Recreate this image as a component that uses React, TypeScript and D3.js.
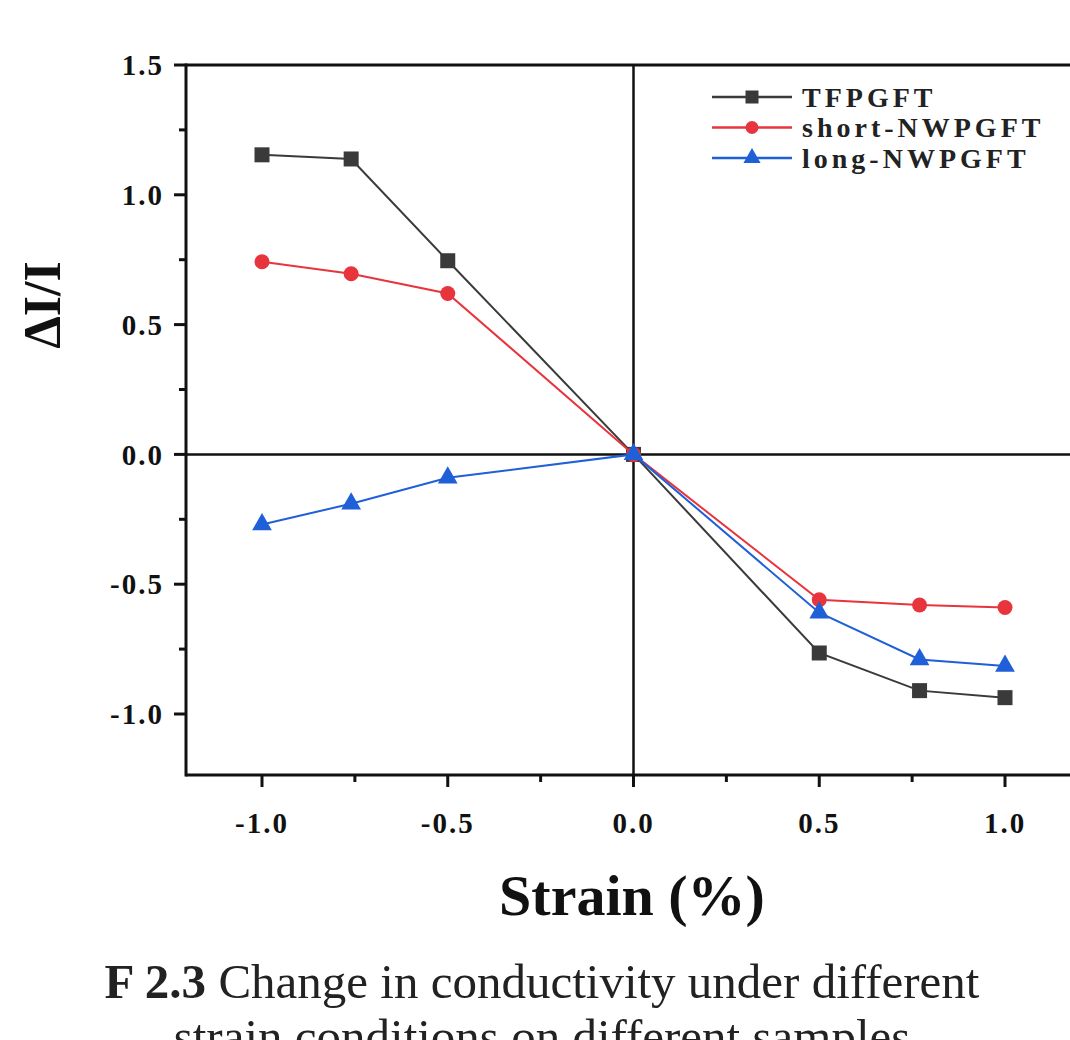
import React from "react";
import * as d3 from "d3";

const strain = [-1.0, -0.76, -0.5, 0.0, 0.5, 0.77, 1.0];
const tfpgft = [1.154, 1.138, 0.746, 0.0, -0.765, -0.91, -0.937];
const shortNW = [0.742, 0.696, 0.62, 0.0, -0.56, -0.58, -0.59];
const longNW = [-0.27, -0.19, -0.09, 0.0, -0.61, -0.79, -0.815];
const seriesNames = ["TFPGFT", "short-NWPGFT", "long-NWPGFT"];
const seriesColors = ["#3a3a3a", "#e8343c", "#1f5fd8"];
const seriesShapes = ["square", "circle", "triangle"];
const xMajor = [-1.0, -0.5, 0.0, 0.5, 1.0];
const xMinor = [-0.75, -0.25, 0.25, 0.75];
const yMajor = [1.5, 1.0, 0.5, 0.0, -0.5, -1.0];
const yMinor = [1.25, 0.75, 0.25, -0.25, -0.75];

const W = 1070, H = 1040;
const frameL = 186, frameT = 65, frameB = 775, frameR = 1085;

function Marker({ shape, x, y, color, s }: any) {
  if (shape === "square")
    return <rect x={x - s / 2} y={y - s / 2} width={s} height={s} fill={color} />;
  if (shape === "circle") return <circle cx={x} cy={y} r={s / 2} fill={color} />;
  const sym = d3.symbol().type(d3.symbolTriangle).size(s * s * 0.75)();
  return <path d={sym || ""} transform={`translate(${x},${y})`} fill={color} />;
}

export default function App() {
  const x = d3.scaleLinear().domain([-1, 1]).range([262, 1005]);
  const y = d3.scaleLinear().domain([-1, 1.5]).range([714, 65]);
  const all = [tfpgft, shortNW, longNW];
  const line = d3
    .line<number>()
    .x((_, i) => x(strain[i]))
    .y((d) => y(d));
  const serif = "'Liberation Serif', 'Times New Roman', serif";
  const fmt = (v: number) => d3.format(".1f")(v).replace("−", "-");
  return (
    <svg
      width={W}
      height={H}
      style={{ position: "absolute", left: 0, top: 0, background: "#fff" }}
      fontFamily={serif}
    >
      <rect width={W} height={H} fill="#fff" />
      {/* zero lines */}
      <line x1={x(0)} x2={x(0)} y1={frameT} y2={frameB} stroke="#111" strokeWidth={2.5} />
      <line x1={frameL} x2={frameR} y1={y(0)} y2={y(0)} stroke="#111" strokeWidth={2.5} />
      {/* frame */}
      <line x1={frameL} x2={frameR} y1={frameT} y2={frameT} stroke="#111" strokeWidth={3} />
      <line x1={frameL} x2={frameR} y1={frameB} y2={frameB} stroke="#111" strokeWidth={3} />
      <line x1={frameL} x2={frameL} y1={frameT - 1.5} y2={frameB + 1.5} stroke="#111" strokeWidth={3} />
      {/* y ticks */}
      {yMajor.map((v) => (
        <g key={"ym" + v}>
          <line x1={frameL - 12} x2={frameL} y1={y(v)} y2={y(v)} stroke="#111" strokeWidth={3} />
          <text x={164} y={y(v)} dy="0.35em" textAnchor="end" fontSize={29} fontWeight="bold" letterSpacing={2} fill="#111">
            {fmt(v)}
          </text>
        </g>
      ))}
      {yMinor.map((v) => (
        <line key={"yn" + v} x1={frameL - 7} x2={frameL} y1={y(v)} y2={y(v)} stroke="#111" strokeWidth={3} />
      ))}
      {/* x ticks */}
      {xMajor.map((v) => (
        <g key={"xm" + v}>
          <line x1={x(v)} x2={x(v)} y1={frameB} y2={frameB + 12} stroke="#111" strokeWidth={3} />
          <text x={x(v)} y={833} textAnchor="middle" fontSize={29} fontWeight="bold" letterSpacing={2} fill="#111">
            {fmt(v)}
          </text>
        </g>
      ))}
      {xMinor.map((v) => (
        <line key={"xn" + v} x1={x(v)} x2={x(v)} y1={frameB} y2={frameB + 7} stroke="#111" strokeWidth={3} />
      ))}
      {/* series */}
      {all.map((vals, si) => (
        <g key={"s" + si}>
          <path d={line(vals) || ""} fill="none" stroke={seriesColors[si]} strokeWidth={2} />
          {vals.map((v, i) => (
            <Marker key={i} shape={seriesShapes[si]} x={x(strain[i])} y={y(v)} color={seriesColors[si]} s={15} />
          ))}
        </g>
      ))}
      {/* legend */}
      {seriesNames.map((n, i) => {
        const ly = 97 + i * 30.5;
        return (
          <g key={"l" + n}>
            <line x1={712} x2={792} y1={ly} y2={ly} stroke={seriesColors[i]} strokeWidth={2.5} />
            <Marker shape={seriesShapes[i]} x={752} y={ly} color={seriesColors[i]} s={13} />
            <text x={802} y={ly} dy="0.35em" fontSize={28} fontWeight="bold" letterSpacing={4} fill="#222">
              {n}
            </text>
          </g>
        );
      })}
      {/* axis titles */}
      <text
        transform={`translate(60,305) rotate(-90)`}
        textAnchor="middle"
        fontSize={52}
        fontWeight="bold"
        fill="#111"
      >
        ΔI/I
      </text>
      <text x={632} y={915} textAnchor="middle" fontSize={58} fontWeight="bold" fill="#111">
        Strain (%)
      </text>
      {/* caption */}
      <text x={542} y={998} textAnchor="middle" fontSize={49} fill="#222">
        <tspan fontWeight="bold">F 2.3</tspan> Change in conductivity under different
      </text>
      <text x={542} y={1053} textAnchor="middle" fontSize={49} fill="#222">
        strain conditions on different samples
      </text>
    </svg>
  );
}
